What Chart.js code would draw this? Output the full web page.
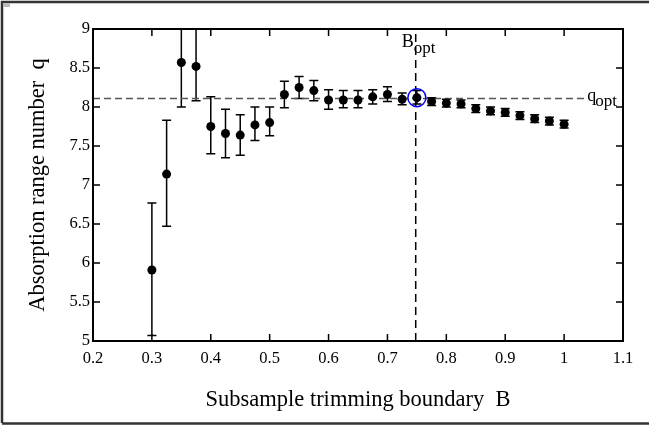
<!DOCTYPE html>
<html>
<head>
<meta charset="utf-8">
<script src="https://cdn.jsdelivr.net/npm/chart.js@4/dist/chart.umd.min.js"></script>
<style>
  html, body { margin: 0; padding: 0; background: #fff; }
  #wrap { width: 649px; height: 430px; position: relative; }
</style>
</head>
<body>
<div id="wrap"><canvas id="c" width="649" height="430"></canvas></div>
<script>
// ---- data ----
const boundaryB = [0.3, 0.325, 0.35, 0.375, 0.4, 0.425, 0.45, 0.475, 0.5, 0.525, 0.55, 0.575, 0.6, 0.625, 0.65, 0.675, 0.7, 0.725, 0.75, 0.775, 0.8, 0.825, 0.85, 0.875, 0.9, 0.925, 0.95, 0.975, 1.0];
const qValues  = [5.91, 7.14, 8.57, 8.52, 7.75, 7.66, 7.64, 7.77, 7.80, 8.16, 8.25, 8.21, 8.09, 8.09, 8.09, 8.13, 8.16, 8.10, 8.12, 8.07, 8.05, 8.04, 7.98, 7.95, 7.93, 7.89, 7.85, 7.82, 7.78];
const qLower   = [5.07, 6.47, 8.00, 8.08, 7.40, 7.35, 7.38, 7.57, 7.63, 7.99, 8.11, 8.08, 7.97, 7.99, 7.99, 8.04, 8.07, 8.03, 8.04, 8.02, 8.00, 7.99, 7.93, 7.90, 7.88, 7.84, 7.80, 7.77, 7.73];
const qUpper   = [6.77, 7.83, 9.10, 9.00, 8.13, 7.97, 7.90, 8.00, 8.00, 8.33, 8.39, 8.34, 8.22, 8.21, 8.21, 8.22, 8.26, 8.18, 8.21, 8.12, 8.10, 8.09, 8.03, 8.00, 7.98, 7.94, 7.90, 7.87, 7.83];
const qOpt = 8.11;
const bOpt = 0.748;
const optIndex = 18;           // point at B = 0.75 circled in blue
const qOptLineEnd = 1.036;     // dashed q_opt line stops before its label
const xTicks = [0.2, 0.3, 0.4, 0.5, 0.6, 0.7, 0.8, 0.9, 1, 1.1];
const yTicks = [5, 5.5, 6, 6.5, 7, 7.5, 8, 8.5, 9];
const xTitle = "Subsample trimming boundary  B";
const yTitle = "Absorption range number  q";

const SERIF = '"Liberation Serif", "Times New Roman", serif';

const points = boundaryB.map((b, i) => ({x: b, y: qValues[i]}));

const decor = {
  id: 'decor',
  beforeDatasetsDraw(chart) {
    const {ctx, chartArea: a, scales: {x, y}} = chart;
    ctx.save();
    ctx.beginPath();
    ctx.rect(a.left, a.top, a.right - a.left, a.bottom - a.top);
    ctx.clip();
    ctx.strokeStyle = '#000';
    ctx.lineWidth = 1.5;
    boundaryB.forEach((b, i) => {
      const px = x.getPixelForValue(b);
      const lo = y.getPixelForValue(qLower[i]);
      const hi = y.getPixelForValue(qUpper[i]);
      ctx.beginPath();
      ctx.moveTo(px, lo); ctx.lineTo(px, hi);
      ctx.moveTo(px - 4.5, lo); ctx.lineTo(px + 4.5, lo);
      ctx.moveTo(px - 4.5, hi); ctx.lineTo(px + 4.5, hi);
      ctx.stroke();
    });
    ctx.restore();
  },
  afterDraw(chart) {
    const {ctx, chartArea: a, scales: {x, y}} = chart;
    ctx.save();
    // plot frame
    ctx.strokeStyle = '#000';
    ctx.lineWidth = 2;
    ctx.strokeRect(a.left, a.top, a.right - a.left, a.bottom - a.top);
    // inward ticks on all four sides
    ctx.lineWidth = 1.5;
    const tl = 7;
    ctx.beginPath();
    xTicks.forEach(v => {
      const px = x.getPixelForValue(v);
      ctx.moveTo(px, a.bottom); ctx.lineTo(px, a.bottom - tl);
      ctx.moveTo(px, a.top); ctx.lineTo(px, a.top + tl);
    });
    yTicks.forEach(v => {
      const py = y.getPixelForValue(v);
      ctx.moveTo(a.left, py); ctx.lineTo(a.left + tl, py);
      ctx.moveTo(a.right, py); ctx.lineTo(a.right - tl, py);
    });
    ctx.stroke();

    // outer figure frame
    ctx.strokeStyle = '#333';
    ctx.lineWidth = 2.5;
    ctx.beginPath();
    ctx.moveTo(2, 423); ctx.lineTo(2, 2); ctx.lineTo(649, 2);
    ctx.moveTo(2, 423.5); ctx.lineTo(649, 423.5);
    ctx.stroke();
    ctx.fillStyle = '#bbb';
    ctx.fillRect(3, 3, 7, 4);

    // annotations
    ctx.fillStyle = '#000';
    ctx.textBaseline = 'alphabetic';
    ctx.textAlign = 'left';
    const bx = x.getPixelForValue(bOpt);
    ctx.font = '18px ' + SERIF;
    ctx.fillText('B', bx - 14, a.top + 18);
    ctx.font = '17px ' + SERIF;
    ctx.fillText('opt', bx - 2, a.top + 24);
    const qy = y.getPixelForValue(qOpt);
    const qx = x.getPixelForValue(qOptLineEnd);
    ctx.font = '18px ' + SERIF;
    ctx.fillText('q', qx + 2, qy + 3);
    ctx.font = '17px ' + SERIF;
    ctx.fillText('opt', qx + 10, qy + 8);

    // axis titles
    ctx.font = '22.5px ' + SERIF;
    ctx.textAlign = 'center';
    ctx.textBaseline = 'middle';
    ctx.fillText(xTitle, (a.left + a.right) / 2, 400);
    ctx.translate(38, (a.top + a.bottom) / 2);
    ctx.rotate(-Math.PI / 2);
    ctx.fillText(yTitle, 0, 0);
    ctx.restore();
  }
};

new Chart(document.getElementById('c'), {
  type: 'scatter',
  data: {
    datasets: [
      {
        label: 'q',
        data: points,
        pointRadius: 4.5,
        pointHoverRadius: 4.5,
        backgroundColor: '#000',
        borderColor: '#000',
        borderWidth: 0,
        showLine: false,
        order: 2
      },
      {
        label: 'optimum',
        data: [{x: boundaryB[optIndex], y: qValues[optIndex]}],
        pointRadius: 9,
        pointHoverRadius: 9,
        backgroundColor: 'rgba(0,0,0,0)',
        borderColor: '#0000ff',
        borderWidth: 1.5,
        showLine: false,
        order: 1
      },
      {
        label: 'q_opt',
        data: [{x: 0.2, y: qOpt}, {x: qOptLineEnd, y: qOpt}],
        showLine: true,
        pointRadius: 0,
        borderColor: '#555',
        borderWidth: 1.5,
        borderDash: [7, 4],
        order: 3
      },
      {
        label: 'B_opt',
        data: [{x: bOpt, y: 5}, {x: bOpt, y: 9}],
        showLine: true,
        pointRadius: 0,
        borderColor: '#000',
        borderWidth: 1.5,
        borderDash: [8, 5],
        order: 3
      }
    ]
  },
  plugins: [decor],
  options: {
    responsive: false,
    animation: false,
    events: [],
    layout: { padding: { left: 0, top: 29, right: 26, bottom: 0 } },
    plugins: { legend: { display: false }, tooltip: { enabled: false } },
    scales: {
      x: {
        type: 'linear',
        min: 0.2, max: 1.1,
        afterFit(s) { s.height = 89; },
        afterBuildTicks(s) { s.ticks = xTicks.map(v => ({value: v})); },
        grid: { display: false, drawTicks: false },
        border: { display: false },
        ticks: {
          padding: 8,
          color: '#000',
          font: { family: SERIF, size: 16.5 },
          callback: v => String(Math.round(v * 10) / 10)
        }
      },
      y: {
        type: 'linear',
        min: 5, max: 9,
        afterFit(s) { s.width = 93; },
        afterBuildTicks(s) { s.ticks = yTicks.map(v => ({value: v})); },
        grid: { display: false, drawTicks: false },
        border: { display: false },
        ticks: {
          padding: 3,
          color: '#000',
          font: { family: SERIF, size: 16.5 },
          callback: v => String(Math.round(v * 10) / 10)
        }
      }
    }
  }
});
</script>
</body>
</html>
